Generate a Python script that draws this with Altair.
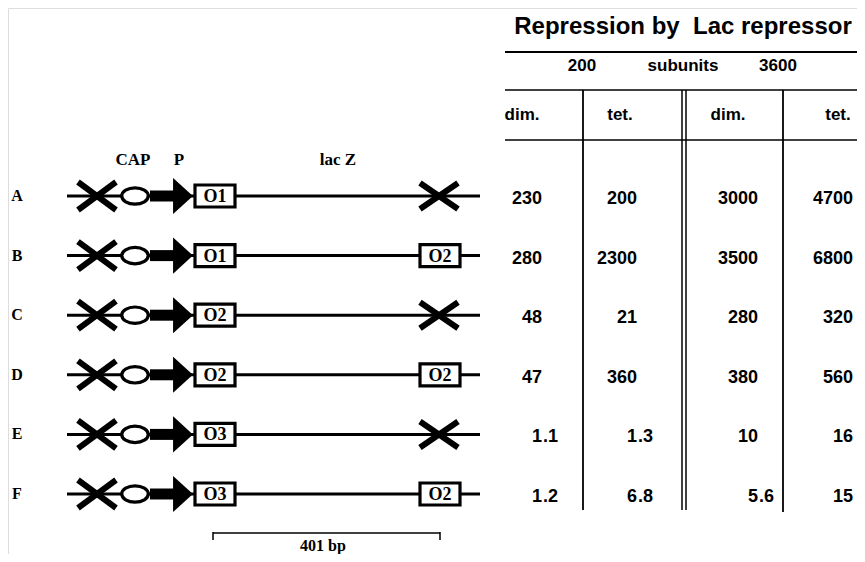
import altair as alt
import pandas as pd

# ---------------- data ----------------
rows = ["A", "B", "C", "D", "E", "F"]
upstream_op = ["O1", "O1", "O2", "O2", "O3", "O3"]
downstream_op = ["X", "O2", "X", "O2", "X", "O2"]  # "X" = destroyed/deleted site

dim_200 = ["230", "280", "48", "47", "1.1", "1.2"]
tet_200 = ["200", "2300", "21", "360", "1.3", "6.8"]
dim_3600 = ["3000", "3500", "280", "380", "10", "5.6"]
tet_3600 = ["4700", "6800", "320", "560", "16", "15"]

title_text = "Repression by\u00a0\u00a0Lac repressor"
subunit_labels = ["200", "subunits", "3600"]
col_headers = ["dim.", "tet.", "dim.", "tet."]
feature_labels = ["CAP", "P", "lac Z"]
scale_label = "401 bp"

# ---------------- layout (image pixel coordinates) ----------------
ROW0, ROWSTEP = 196, 59.6
row_y = [ROW0 + ROWSTEP * i for i in range(len(rows))]
LINE_X0, LINE_X1 = 67, 480
LX_C, RX_C = 97, 439
ELL_X, TRI_X = 135, 183
SHAFT_X0, SHAFT_X1 = 150, 176
UP_BOX = (195, 235)
DN_BOX = (420, 460)
col_anchor = [542, 637, 758, 853]
header_x = [522, 620, 728, 838]
subunit_x = [582, 683, 778]
feature_x = [133, 179, 338]

SERIF = "Liberation Serif"
SANS = "Liberation Sans"

xs = alt.Scale(domain=[8, 857], nice=False, zero=False)
ys = alt.Scale(domain=[8, 554], nice=False, zero=False, reverse=True)


def X(f="x"):
    return alt.X(f"{f}:Q", scale=xs, axis=None)


def Y(f="y"):
    return alt.Y(f"{f}:Q", scale=ys, axis=None)


# ---------------- segments ----------------
segs = []
for i, y in enumerate(row_y):
    segs.append(dict(x=LINE_X0, y=y, x2=LINE_X1, y2=y, w=3))
    # left destroyed site (X)
    segs.append(dict(x=LX_C - 19, y=y - 14, x2=LX_C + 19, y2=y + 14, w=6))
    segs.append(dict(x=LX_C - 19, y=y + 14, x2=LX_C + 19, y2=y - 14, w=6))
    # promoter arrow shaft
    segs.append(dict(x=SHAFT_X0, y=y, x2=SHAFT_X1, y2=y, w=11))
    if downstream_op[i] == "X":
        segs.append(dict(x=RX_C - 19, y=y - 13, x2=RX_C + 19, y2=y + 13, w=6))
        segs.append(dict(x=RX_C - 19, y=y + 13, x2=RX_C + 19, y2=y - 13, w=6))

# scale bar
segs += [
    dict(x=213, y=533, x2=440, y2=533, w=1.5),
    dict(x=213, y=532, x2=213, y2=540, w=1.5),
    dict(x=440, y=532, x2=440, y2=540, w=1.5),
]
# table lines
segs += [
    dict(x=505, y=52, x2=865, y2=52, w=2),
    dict(x=505, y=90, x2=865, y2=90, w=1.5),
    dict(x=505, y=140, x2=865, y2=140, w=1.5),
    dict(x=583, y=90, x2=583, y2=510, w=1.8),
    dict(x=682, y=90, x2=682, y2=510, w=1.5),
    dict(x=686, y=90, x2=686, y2=510, w=1.5),
    dict(x=783, y=90, x2=783, y2=512, w=1.8),
]
seg_df = pd.DataFrame(segs)

rules = alt.Chart(seg_df).mark_rule(color="black", strokeCap="butt").encode(
    x=X(), y=Y(), x2="x2:Q", y2="y2:Q",
    strokeWidth=alt.StrokeWidth("w:Q", scale=None),
)

# ---------------- CAP site ellipse & arrow head ----------------
sym_df = pd.DataFrame({"x": [ELL_X] * len(rows), "y": row_y})
ellipse = alt.Chart(sym_df).mark_point(
    shape="M-1,0A1,0.62,0,1,1,1,0A1,0.62,0,1,1,-1,0Z",
    size=700, filled=False, fill="white", fillOpacity=1,
    stroke="black", strokeWidth=3.2, opacity=1,
).encode(x=X(), y=Y())

tri_df = pd.DataFrame({"x": [TRI_X] * len(rows), "y": row_y})
arrow = alt.Chart(tri_df).mark_point(
    shape="M-0.55,-1L0.55,0L-0.55,1Z", size=1300, filled=True,
    color="black", opacity=1,
).encode(x=X(), y=Y())

# ---------------- operator boxes ----------------
boxes = []
for i, y in enumerate(row_y):
    boxes.append(dict(x=UP_BOX[0], x2=UP_BOX[1], y=y - 11, y2=y + 11,
                      cx=(UP_BOX[0] + UP_BOX[1]) / 2, cy=y, lab=upstream_op[i]))
    if downstream_op[i] != "X":
        boxes.append(dict(x=DN_BOX[0], x2=DN_BOX[1], y=y - 11, y2=y + 11,
                          cx=(DN_BOX[0] + DN_BOX[1]) / 2, cy=y, lab=downstream_op[i]))
box_df = pd.DataFrame(boxes)

box_rect = alt.Chart(box_df).mark_rect(
    fill="white", stroke="black", strokeWidth=3.2
).encode(x=X(), x2="x2:Q", y=Y(), y2="y2:Q")

box_text = alt.Chart(box_df).mark_text(
    font=SERIF, fontWeight="bold", fontSize=18, color="black", baseline="middle", dy=1
).encode(x=X("cx"), y=Y("cy"), text="lab:N")

# ---------------- labels ----------------
row_lab = alt.Chart(pd.DataFrame({"x": [17] * len(rows), "y": row_y, "t": rows})).mark_text(
    font=SERIF, fontWeight="bold", fontSize=16, baseline="middle", color="black"
).encode(x=X(), y=Y(), text="t:N")

feat = alt.Chart(pd.DataFrame({"x": feature_x, "y": [160] * 3, "t": feature_labels})).mark_text(
    font=SERIF, fontWeight="bold", fontSize=17, baseline="middle", color="black"
).encode(x=X(), y=Y(), text="t:N")

scale_txt = alt.Chart(pd.DataFrame({"x": [323], "y": [546], "t": [scale_label]})).mark_text(
    font=SERIF, fontWeight="bold", fontSize=16, baseline="middle", color="black"
).encode(x=X(), y=Y(), text="t:N")

title = alt.Chart(pd.DataFrame({"x": [683], "y": [27], "t": [title_text]})).mark_text(
    font=SANS, fontWeight="bold", fontSize=24, baseline="middle", color="black"
).encode(x=X(), y=Y(), text="t:N")

sub = alt.Chart(pd.DataFrame({"x": subunit_x, "y": [66] * 3, "t": subunit_labels})).mark_text(
    font=SANS, fontWeight="bold", fontSize=17, baseline="middle", color="black"
).encode(x=X(), y=Y(), text="t:N")

hdr = alt.Chart(pd.DataFrame({"x": header_x, "y": [115] * 4, "t": col_headers})).mark_text(
    font=SANS, fontWeight="bold", fontSize=17, baseline="middle", color="black"
).encode(x=X(), y=Y(), text="t:N")

# ---------------- table values (decimal aligned) ----------------
cells = []
for c, col in enumerate([dim_200, tet_200, dim_3600, tet_3600]):
    for i, v in enumerate(col):
        ip, _, fp = v.partition(".")
        cells.append(dict(x=col_anchor[c], y=row_y[i] + 3, ip=ip,
                          fp=("." + fp) if fp else ""))
cell_df = pd.DataFrame(cells)

val_int = alt.Chart(cell_df).mark_text(
    font=SANS, fontWeight="bold", fontSize=18, baseline="middle", align="right", color="black"
).encode(x=X(), y=Y(), text="ip:N")

val_frac = alt.Chart(cell_df).mark_text(
    font=SANS, fontWeight="bold", fontSize=18, baseline="middle", align="left",
    color="black", dx=1
).encode(x=X(), y=Y(), text="fp:N")

chart = alt.layer(
    rules, ellipse, arrow, box_rect, box_text, row_lab, feat, scale_txt,
    title, sub, hdr, val_int, val_frac,
).properties(
    width=849, height=546, padding=0, autosize=alt.AutoSizeParams(type="none")
).configure_view(stroke=None).configure(background="white")

chart.save("out.html", embed_options={"renderer": "svg", "actions": False})
